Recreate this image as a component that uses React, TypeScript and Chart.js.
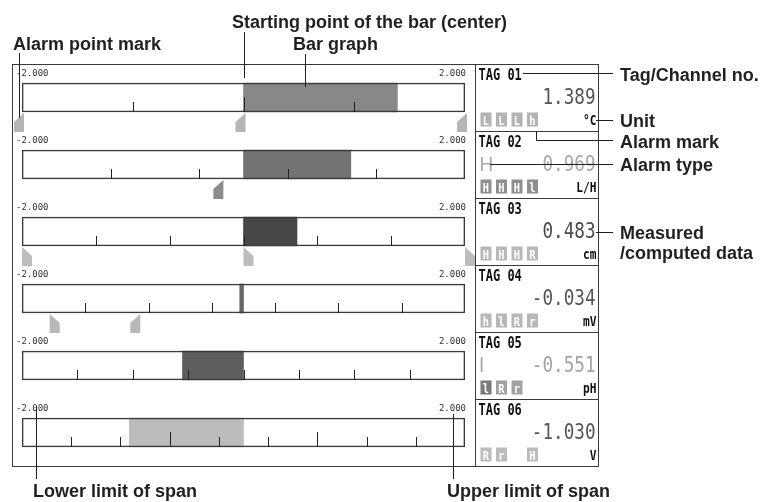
import React, { useEffect, useRef } from "react";
import { Chart, registerables } from "chart.js";

Chart.register(...registerables);

// ---------- data ----------
const tagNames = ["TAG 01", "TAG 02", "TAG 03", "TAG 04", "TAG 05", "TAG 06"];
const measured = [1.389, 0.969, 0.483, -0.034, -0.551, -1.03];
const units = ["°C", "L/H", "cm", "mV", "pH", "V"];
const spanLow = [-2, -2, -2, -2, -2, -2];
const spanHigh = [2, 2, 2, 2, 2, 2];
const barBase = [0, 0, 0, 0, 0, 0];
const tickDivisions = [4, 5, 6, 7, 8, 9];
const majorTickEvery = [2, 0, 0, 0, 0, 3];
const alarmTypes = ["", "H", "", "", "l", ""];
const alarmMarks = [
  ["L", "L", "L", "h"],
  ["H", "H", "H", "l"],
  ["H", "H", "H", "R"],
  ["h", "l", "R", "r"],
  ["l", "R", "r"],
  ["R", "r", "", "H"],
];
const alarmPoints = [[-2, 0, 2], [-0.2], [-2, 0, 2], [-1.75, -0.95], [], []];
const alarmPointSides = [["r", "r", "r"], ["r"], ["l", "l", "l"], ["l", "r"], [], []];

// ---------- styles ----------
const barColors = ["#888888", "#737373", "#474747", "#666666", "#5e5e5e", "#bcbcbc"];
const valueColors = ["#555555", "#a8a8a8", "#4a4a4a", "#555555", "#a3a3a3", "#555555"];
const markBoxColors = [
  ["#b3b3b3", "#b3b3b3", "#b3b3b3", "#b3b3b3"],
  ["#8f8f8f", "#8f8f8f", "#8f8f8f", "#8f8f8f"],
  ["#b8b8b8", "#b8b8b8", "#b8b8b8", "#b8b8b8"],
  ["#b8b8b8", "#b8b8b8", "#b8b8b8", "#b8b8b8"],
  ["#7a7a7a", "#a2a2a2", "#a2a2a2"],
  ["#bbbbbb", "#bbbbbb", "#bbbbbb", "#bbbbbb"],
];
const alarmPointColors = ["#b5b5b5", "#8c8c8c", "#bdbdbd", "#b8b8b8", "#b8b8b8", "#b8b8b8"];
const INK = "#231f20";
const MONO = '"DejaVu Sans Mono", "Liberation Mono", monospace';
const SANS = '"Liberation Sans", Arial, Helvetica, sans-serif';

function txt(
  ctx: CanvasRenderingContext2D,
  s: string,
  x: number,
  y: number,
  font: string,
  color: string,
  align: CanvasTextAlign = "left",
  sx = 1
) {
  ctx.save();
  ctx.translate(x, y);
  ctx.scale(sx, 1);
  ctx.font = font;
  ctx.fillStyle = color;
  ctx.textAlign = align;
  ctx.textBaseline = "alphabetic";
  ctx.fillText(s, 0, 0);
  ctx.restore();
}

function line(ctx: CanvasRenderingContext2D, pts: number[][], color = INK, w = 1) {
  ctx.save();
  ctx.strokeStyle = color;
  ctx.lineWidth = w;
  ctx.beginPath();
  pts.forEach((p, i) => (i === 0 ? ctx.moveTo(p[0], p[1]) : ctx.lineTo(p[0], p[1])));
  ctx.stroke();
  ctx.restore();
}

const overlayPlugin = {
  id: "overlay",
  afterDatasetsDraw(chart: any) {
    const ctx: CanvasRenderingContext2D = chart.ctx;
    const xs = chart.scales.x;
    const ys = chart.scales.y;
    const area = chart.chartArea;
    const n = tagNames.length;
    const band = (area.bottom - area.top) / n;
    const frameL = 12.5;
    const frameR = 598.5;
    const divX = 475.5;
    const half = 14.5;

    // frame
    ctx.save();
    ctx.strokeStyle = "#3a3a3a";
    ctx.lineWidth = 1;
    ctx.strokeRect(frameL, Math.round(area.top) + 0.5, frameR - frameL, Math.round(area.bottom) - Math.round(area.top));
    line(ctx, [[divX, area.top], [divX, area.bottom]], "#3a3a3a");
    ctx.restore();

    for (let i = 0; i < n; i++) {
      const cy = ys.getPixelForValue(i);
      const top = cy - band / 2;
      const boxBottom = cy + half;

      // panel divider
      if (i > 0) line(ctx, [[divX, Math.round(top) + 0.5], [frameR, Math.round(top) + 0.5]], "#3a3a3a");

      // span labels
      txt(ctx, spanLow[i].toFixed(3), xs.getPixelForValue(spanLow[i]) - 6, top + 12, `9px ${MONO}`, "#333", "left");
      txt(ctx, spanHigh[i].toFixed(3), xs.getPixelForValue(spanHigh[i]) + 1, top + 12, `9px ${MONO}`, "#333", "right");

      // scale ticks inside bar box
      const d = tickDivisions[i];
      for (let k = 1; k < d; k++) {
        const v = spanLow[i] + ((spanHigh[i] - spanLow[i]) * k) / d;
        const px = Math.round(xs.getPixelForValue(v)) + 0.5;
        const major = majorTickEvery[i] > 0 && k % majorTickEvery[i] === 0;
        const len = major ? 15 : 10;
        line(ctx, [[px, boxBottom - len], [px, boxBottom]], "#222");
      }

      // alarm point marks
      alarmPoints[i].forEach((v, j) => {
        const px = xs.getPixelForValue(v);
        const t = boxBottom + 1;
        const b = t + 19;
        ctx.save();
        ctx.fillStyle = alarmPointColors[i];
        ctx.beginPath();
        if (alarmPointSides[i][j] === "r") {
          const r = px + 2;
          ctx.moveTo(r - 10, b);
          ctx.lineTo(r - 10, t + 9);
          ctx.lineTo(r, t);
          ctx.lineTo(r, b);
        } else {
          const l = px;
          ctx.moveTo(l, t);
          ctx.lineTo(l + 10, t + 9);
          ctx.lineTo(l + 10, b);
          ctx.lineTo(l, b);
        }
        ctx.closePath();
        ctx.fill();
        ctx.restore();
      });

      // tag panel
      const pl = divX + 3;
      txt(ctx, tagNames[i], pl, top + 16, `bold 15px ${MONO}`, "#111", "left", 0.8);
      txt(ctx, measured[i].toFixed(3), frameR - 3, top + 40, `21px ${MONO}`, valueColors[i], "right", 0.84);
      if (alarmTypes[i]) {
        txt(ctx, alarmTypes[i], pl + 1, top + 40, `21px ${SANS}`, valueColors[i], "left", 0.9);
      }
      alarmMarks[i].forEach((m, k) => {
        if (!m) return;
        const bx = 480.5 + 15.5 * k;
        const by = top + 48.5;
        ctx.save();
        ctx.fillStyle = markBoxColors[i][k];
        ctx.fillRect(bx, by, 11, 14);
        ctx.restore();
        txt(ctx, m, bx + 5.5, by + 12, `bold 13px ${MONO}`, "#ffffff", "center", 0.8);
      });
      txt(ctx, units[i], frameR - 2, top + 61, `bold 14px ${MONO}`, "#111", "right", 0.8);
    }

    // ---------- annotations ----------
    const f = `bold 18px ${SANS}`;
    const x0 = Math.round(xs.getPixelForValue(barBase[0])) + 0.5;
    txt(ctx, "Starting point of the bar (center)", 232, 28, f, INK);
    line(ctx, [[x0, 32], [x0, 78]]);
    txt(ctx, "Bar graph", 293, 50, f, INK);
    line(ctx, [[305.5, 54], [305.5, 87]]);
    txt(ctx, "Alarm point mark", 13, 50, f, INK);
    line(ctx, [[19.5, 53], [19.5, 118]]);

    txt(ctx, "Tag/Channel no.", 620, 81, f, INK);
    line(ctx, [[523, 73.5], [613, 73.5]]);
    txt(ctx, "Unit", 620, 127, f, INK);
    line(ctx, [[596, 120.5], [613, 120.5]]);
    txt(ctx, "Alarm mark", 620, 148, f, INK);
    line(ctx, [[536.5, 131], [536.5, 140.5], [613, 140.5]]);
    txt(ctx, "Alarm type", 620, 171, f, INK);
    line(ctx, [[490, 164.5], [613, 164.5]]);
    txt(ctx, "Measured", 620, 239, f, INK);
    txt(ctx, "/computed data", 620, 259, f, INK);
    line(ctx, [[596, 232.5], [613, 232.5]]);

    txt(ctx, "Lower limit of span", 33, 497, f, INK);
    line(ctx, [[36.5, 406], [36.5, 479]]);
    txt(ctx, "Upper limit of span", 447, 497, f, INK);
    line(ctx, [[453.5, 414], [453.5, 479]]);
  },
};

export default function App() {
  const ref = useRef<HTMLCanvasElement | null>(null);

  useEffect(() => {
    if (!ref.current) return;
    const chart = new Chart(ref.current, {
      type: "bar",
      data: {
        labels: tagNames,
        datasets: [
          {
            label: "span",
            data: tagNames.map((_, i) => [spanLow[i], spanHigh[i]]) as any,
            backgroundColor: "rgba(0,0,0,0)",
            borderColor: "#3a3a3a",
            borderWidth: 1,
            borderSkipped: false,
            grouped: false,
            barThickness: 29,
            order: 0,
          } as any,
          {
            label: "value",
            data: measured.map((v, i) => [barBase[i], v]) as any,
            backgroundColor: barColors,
            borderWidth: 0,
            grouped: false,
            barThickness: 29,
            order: 1,
          } as any,
        ],
      },
      options: {
        indexAxis: "y",
        animation: false,
        responsive: false,
        devicePixelRatio: 1,
        layout: { padding: { left: 22, right: 299, top: 64, bottom: 36 } },
        scales: {
          x: { type: "linear", min: -2, max: 2, display: false },
          y: { type: "category", display: false, offset: true },
        },
        plugins: {
          legend: { display: false },
          tooltip: { enabled: false },
        },
      },
      plugins: [overlayPlugin],
    });
    return () => chart.destroy();
  }, []);

  return (
    <div style={{ position: "absolute", left: 0, top: 0, width: 764, height: 502, background: "#fff" }}>
      <canvas ref={ref} width={764} height={502} style={{ display: "block", width: 764, height: 502 }} />
    </div>
  );
}
